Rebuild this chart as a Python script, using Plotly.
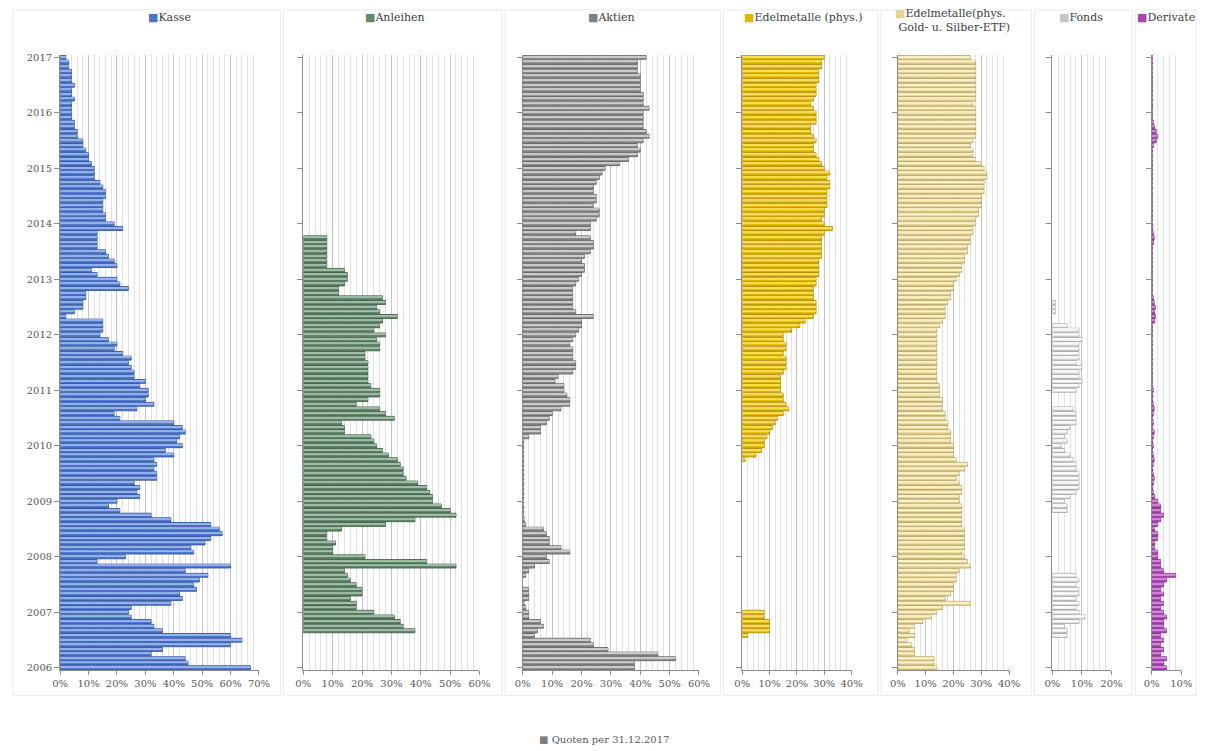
import plotly.graph_objects as go
import pandas as pd

# ---------------- data (percent, monthly Jan 2006 .. Jan 2017) ----------------
months = pd.date_range("2006-01-01", "2017-01-01", freq="MS")

year_ticks = [str(y) for y in range(2006, 2018)]

kasse = [
    67, 45, 44, 32, 36, 60, 64, 60, 36, 33, 32, 25,
    24, 25, 39, 43, 42, 48, 47, 49, 52, 44, 60, 13,
    23, 47, 46, 51, 53, 57, 56, 53, 39, 32, 21, 17,
    20, 28, 27, 28, 26, 34, 34, 33, 34, 33, 40, 37,
    43, 41, 42, 44, 43, 40, 21, 19, 27, 33, 30, 31,
    31, 28, 30, 26, 26, 25, 24, 25, 22, 19, 20, 17,
    14, 15, 15, 15, 2, 5, 8, 8, 9, 9, 24, 21,
    20, 13, 11, 20, 19, 17, 16, 13, 13, 13, 13, 22,
    19, 16, 16, 15, 15, 15, 16, 16, 15, 14, 12, 12,
    12, 11, 10, 10, 9, 8, 8, 6, 6, 5, 5, 4,
    4, 4, 4, 5, 4, 4, 5, 4, 4, 4, 3, 3, 2,
]

anleihen = [
    0, 0, 0, 0, 0, 0, 0, 0, 38, 34, 33, 31,
    24, 18, 18, 16, 20, 20, 18, 16, 15, 14, 52, 42,
    21, 10, 10, 11, 8, 8, 13, 28, 38, 52, 50, 47,
    44, 44, 43, 42, 39, 35, 34, 34, 33, 32, 29, 27,
    25, 24, 23, 14, 14, 13, 31, 28, 26, 18, 22, 26,
    26, 23, 22, 22, 22, 22, 22, 21, 21, 26, 26, 25,
    28, 24, 26, 27, 32, 26, 25, 28, 27, 12, 12, 14,
    15, 15, 14, 8, 8, 8, 8, 8, 8, 8, 0, 0,
    0, 0, 0, 0, 0, 0, 0, 0, 0, 0, 0, 0,
    0, 0, 0, 0, 0, 0, 0, 0, 0, 0, 0, 0,
    0, 0, 0, 0, 0, 0, 0, 0, 0, 0, 0, 0, 0,
]

aktien = [
    38, 38, 52, 46, 29, 24, 23, 4, 5, 7, 6, 2,
    2, 1, 0.5, 2, 2, 2, 0, 0, 1, 2, 4, 9,
    8, 16, 13, 9, 9, 8, 7, 1, 0.5, 0.3, 0.3, 0.3,
    0.3, 0.3, 0.3, 0.3, 0.3, 0.3, 0.3, 0.3, 0.3, 0.3, 0.3, 0.3,
    0.3, 0.3, 2, 6, 6, 8, 9, 10, 13, 16, 16, 15,
    14, 14, 11, 12, 17, 18, 18, 17, 17, 17, 16, 17,
    18, 19, 20, 20, 24, 18, 17, 17, 17, 17, 17, 18,
    19, 20, 21, 21, 20, 21, 23, 24, 24, 23, 18, 23,
    23, 25, 26, 26, 24, 25, 25, 24, 24, 25, 26, 27,
    28, 33, 36, 39, 40, 39, 41, 43, 42, 41, 41, 41,
    41, 43, 41, 41, 41, 40, 40, 40, 40, 39, 39, 39, 42,
]

edelmetalle = [
    0, 0, 0, 0, 0, 0, 0, 2, 10, 10, 10, 8,
    8, 0, 0, 0, 0, 0, 0, 0, 0, 0, 0, 0,
    0, 0, 0, 0, 0, 0, 0, 0, 0, 0, 0, 0,
    0, 0, 0, 0, 0, 0, 0, 0, 0, 1, 5, 7,
    8, 8, 9, 10, 11, 12, 13, 15, 17, 16, 15, 15,
    14, 14, 14, 14, 15, 16, 16, 16, 15, 16, 16, 15,
    15, 18, 21, 23, 26, 27, 27, 27, 26, 26, 26, 27,
    27, 28, 28, 28, 28, 29, 29, 29, 29, 29, 30, 33,
    30, 29, 30, 30, 31, 31, 31, 31, 32, 32, 31, 32,
    30, 29, 28, 27, 26, 26, 27, 26, 25, 25, 27, 27,
    27, 26, 25, 26, 27, 27, 27, 28, 28, 28, 29, 29, 30,
]

etf = [
    14, 13, 13, 6, 6, 5, 3, 6, 4, 6, 9, 12,
    14, 16, 26, 17, 19, 20, 20, 21, 21, 22, 26, 25,
    24, 23, 24, 24, 24, 24, 24, 23, 23, 23, 23, 23,
    22, 22, 23, 23, 22, 21, 22, 24, 25, 21, 20, 20,
    20, 19, 19, 19, 18, 18, 17, 17, 16, 16, 16, 15,
    15, 15, 14, 14, 14, 14, 14, 14, 14, 14, 14, 14,
    14, 14, 15, 16, 17, 17, 17, 18, 19, 19, 20, 20,
    21, 22, 23, 23, 24, 24, 25, 25, 26, 26, 27, 27,
    28, 28, 29, 29, 30, 30, 30, 31, 31, 31, 32, 32,
    31, 30, 28, 27, 27, 26, 27, 28, 28, 28, 28, 28,
    28, 28, 27, 28, 28, 28, 28, 28, 28, 28, 28, 28, 26,
]

fonds = [
    0, 0, 0, 0, 0, 0, 0, 5, 5, 4, 9, 11,
    9, 8, 9, 8, 9, 9, 8, 9, 8, 0, 0, 0,
    0, 0, 0, 0, 0, 0, 0, 0, 0, 0, 5, 5,
    4, 6, 8, 9, 9, 9, 9, 8, 8, 7, 6, 4,
    3, 5, 4, 5, 6, 8, 8, 8, 7, 0, 0, 0,
    8, 9, 10, 9, 9, 10, 8, 9, 9, 9, 9, 10,
    9, 9, 5, 0, 0, 1, 1, 1, 0, 0, 0, 0,
    0, 0, 0, 0, 0, 0, 0, 0, 0, 0, 0, 0,
    0, 0, 0, 0, 0, 0, 0, 0, 0, 0, 0, 0,
    0, 0, 0, 0, 0, 0, 0, 0, 0, 0, 0, 0,
    0, 0, 0, 0, 0, 0, 0, 0, 0, 0, 0, 0, 0,
]

derivate = [
    5, 4, 5, 3, 4, 3, 4, 3, 5, 4, 4, 5,
    4, 3, 4, 3, 4, 3, 4, 5, 8, 4, 3, 3,
    2, 2, 1, 1, 2, 2, 1, 2, 3, 4, 3, 3,
    2, 1, 0.5, 0.3, 0.5, 0.8, 0.5, 0.3, 0.5, 0.8, 0.5, 0.3,
    0.5, 0.3, 0.5, 0.8, 0.3, 0.5, 0.3, 0.5, 0.8, 0.5, 0.3, 0.3,
    0.5, 0.2, 0.2, 0.2, 0.2, 0.2, 0.2, 0.2, 0.2, 0.2, 0.2, 0.2,
    0.2, 0.2, 0.2, 1, 1.2, 1, 1.2, 0.8, 0.5, 0.2, 0.2, 0.2,
    0.2, 0.2, 0.2, 0.2, 0.2, 0.2, 0.2, 0.2, 0.6, 0.8, 0.5, 0.3,
    0.2, 0.2, 0.2, 0.2, 0.2, 0.2, 0.2, 0.2, 0.2, 0.2, 0.2, 0.2,
    0.2, 0.2, 0.2, 0.2, 0.2, 0.5, 1.5, 2, 1.5, 1, 0.5, 0.2,
    0.2, 0.2, 0.2, 0.2, 0.2, 0.2, 0.2, 0.2, 0.2, 0.2, 0.2, 0.2, 0.2,
]

series_names = ["Kasse", "Anleihen", "Aktien", "Edelmetalle (phys.)",
                "Edelmetalle(phys.<br> Gold- u. Silber-ETF)", "Fonds", "Derivate"]
series_values = [kasse, anleihen, aktien, edelmetalle, etf, fonds, derivate]
axis_max = [70, 60, 60, 40, 40, 20, 10]

for v in series_values:
    assert len(v) == len(months), len(v)

# ---------------- styling ----------------
W, H = 1212, 751
fills = ["#4F7DD6", "#62896C", "#929292", "#EDBF00", "#EEDC98", "#EDEDED", "#B548BF"]
edges = ["#2A4A95", "#39573F", "#5A5A5A", "#A88500", "#B0A062", "#9E9E9E", "#782880"]
shine = ["#A9C4F3", "#B3CDB9", "#DCDCDC", "#FFE867", "#FFF6D2", "#FFFFFF", "#DE9BE4"]
keys = ["#4A72C8", "#5F8A6B", "#7F7F7F", "#E2B400", "#E6D68E", "#C6C6C6", "#B040B0"]
plot_px = [(53, 255), (300, 479), (523, 702), (746, 857), (904, 1017), (1061, 1121), (1162, 1192)]
box_px = [(5, 277), (280, 502), (505, 724), (727, 884), (887, 1040), (1043, 1142), (1145, 1207)]
title_px = [164, 393, 613, 808, 960, 1090, 1176]

y_top_px, y_bot_px = 52.5, 672.5
ydom = [1 - y_bot_px / H, 1 - y_top_px / H]

FONT = "DejaVu Serif"
TXT = "#595959"
AX = "#8C8C8C"
MONTH_MS = 30.4 * 86400000

fig = go.Figure()
layout = dict(
    width=W, height=H, margin=dict(l=0, r=0, t=0, b=0),
    paper_bgcolor="white", plot_bgcolor="white",
    barmode="overlay", bargap=0.08, showlegend=False,
    font=dict(family=FONT, size=10, color=TXT),
)

for i, (name, vals) in enumerate(zip(series_names, series_values)):
    k = "" if i == 0 else str(i + 1)
    xv = [v if v else None for v in vals]
    label = name.replace("<br>", " ")
    fig.add_trace(go.Bar(
        x=xv, y=months, orientation="h", name=label,
        xaxis="x" + k, yaxis="y" + k,
        marker=dict(color=fills[i], line=dict(color=edges[i], width=0.8)),
        hovertemplate="%{y|%b %Y}: %{x}%<extra>" + label + "</extra>",
    ))
    # glossy highlight stripe on each bar (same values, narrower)
    fig.add_trace(go.Bar(
        x=xv, y=months, orientation="h", name=label,
        xaxis="x" + k, yaxis="y" + k,
        width=0.3 * MONTH_MS, offset=0.02 * MONTH_MS,
        marker=dict(color=shine[i], line=dict(width=0), opacity=0.75),
        hoverinfo="skip",
    ))
    x0, x1 = plot_px[i]
    layout["xaxis" + k] = dict(
        domain=[x0 / W, x1 / W], range=[0, axis_max[i]], anchor="y" + k,
        dtick=10, tick0=0, ticksuffix="%", ticks="outside", ticklen=4,
        tickcolor=AX, showline=True, linecolor=AX, linewidth=1,
        showgrid=True, gridcolor="#C2C2C2", gridwidth=1, zeroline=False,
        minor=dict(dtick=2, showgrid=True, gridcolor="#DDE2E2", ticks=""),
        tickfont=dict(family=FONT, size=10, color=TXT), fixedrange=True,
    )
    layout["yaxis" + k] = dict(
        domain=ydom, anchor="x" + k, type="date",
        range=["2005-12-16", "2017-01-16"],
        tickvals=[pd.Timestamp(y + "-01-01") for y in year_ticks],
        ticktext=year_ticks if i == 0 else [""] * len(year_ticks),
        showticklabels=(i == 0),
        ticks="outside", ticklen=5, tickcolor=AX, showline=True,
        linecolor=AX, linewidth=1, showgrid=False, zeroline=False,
        tickfont=dict(family=FONT, size=10, color=TXT), fixedrange=True,
    )

shapes = []
for bx0, bx1 in box_px:
    shapes.append(dict(type="rect", xref="paper", yref="paper",
                       x0=bx0 / W, x1=bx1 / W, y0=1 - 698 / H, y1=1 - 7 / H,
                       line=dict(color="#EAEAEA", width=1), fillcolor="rgba(0,0,0,0)",
                       layer="below"))
layout["shapes"] = shapes

annotations = []
for i, name in enumerate(series_names):
    two_line = "<br>" in name
    text = f"<span style='color:{keys[i]}'>■</span>{name}"
    annotations.append(dict(
        x=title_px[i] / W, y=1 - (18 if two_line else 15) / H, xref="paper", yref="paper",
        text=text, showarrow=False, xanchor="center", yanchor="middle",
        align="left", font=dict(family=FONT, size=11, color="#404040"),
    ))
annotations.append(dict(
    x=605 / W, y=1 - 742 / H, xref="paper", yref="paper",
    text="<span style='color:#7F7F7F'>■</span> Quoten per 31.12.2017",
    showarrow=False, xanchor="center", yanchor="middle",
    font=dict(family=FONT, size=10, color=TXT),
))
layout["annotations"] = annotations

fig.update_layout(**layout)
fig.write_html("out.html")
